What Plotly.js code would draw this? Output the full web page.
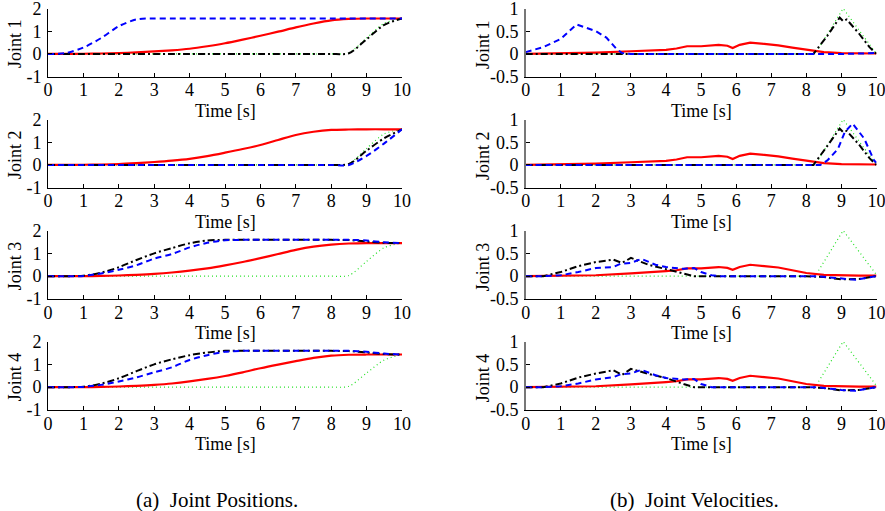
<!DOCTYPE html>
<html>
<head>
<meta charset="utf-8">
<script src="https://cdn.plot.ly/plotly-3.0.1.min.js"></script>
<style>html,body{margin:0;padding:0;background:#fff;}#chart{width:885px;height:511px;}</style>
</head>
<body>
<div id="chart"></div>
<script>
// ---------- DATA ----------
const tP = [0,0.5,1,1.5,2,2.5,3,3.5,4,4.5,5,5.5,6,6.5,7,7.5,8,8.5,9,9.5,10];

// Joint positions
const p1Red   = [0,0,0.01,0.02,0.04,0.07,0.11,0.16,0.23,0.34,0.47,0.63,0.8,0.98,1.17,1.34,1.48,1.54,1.56,1.56,1.56];
const p1Blue  = [0,0.04,0.28,0.7,1.22,1.52,1.56,1.56,1.56,1.56,1.56,1.56,1.56,1.56,1.56,1.56,1.56,1.56,1.56,1.56,1.56];
const p1Black = [0,0,0,0,0,0,0,0,0,0,0,0,0,0,0,0,0,0.03,0.65,1.28,1.56];
const p1Green = [0,0,0,0,0,0,0,0,0,0,0,0,0,0,0,0,0,0.05,0.7,1.35,1.56];

const p2Red   = [0,0,0.01,0.02,0.04,0.08,0.13,0.19,0.27,0.39,0.54,0.7,0.88,1.1,1.32,1.46,1.54,1.56,1.57,1.57,1.57];
const p2Blue  = [0,0,0,0,0,0,0,0,0,0,0,0,0,0,0,0,0,0,0.4,0.95,1.57];
const p2Black = [0,0,0,0,0,0,0,0,0,0,0,0,0,0,0,0,0,0.04,0.63,1.18,1.57];
const p2Green = [0,0,0,0,0,0,0,0,0,0,0,0,0,0,0,0,0,0.05,0.73,1.37,1.57];

const p3Red   = [0,0,0,0.01,0.03,0.06,0.1,0.16,0.24,0.34,0.47,0.62,0.79,0.97,1.15,1.29,1.38,1.43,1.45,1.45,1.45];
const p3Blue  = [0,0,0.01,0.12,0.28,0.48,0.77,0.97,1.26,1.46,1.57,1.59,1.59,1.59,1.59,1.59,1.59,1.59,1.56,1.48,1.45];
const p3Black = [0,0,0.02,0.15,0.39,0.71,1.0,1.23,1.44,1.56,1.59,1.59,1.59,1.59,1.59,1.59,1.59,1.58,1.52,1.46,1.45];
const p3Green = [0,0,0,0,0,0,0,0,0,0,0,0,0,0,0,0,0,0.03,0.65,1.25,1.45];

const p4Red   = [0,0,0,0.01,0.03,0.06,0.1,0.16,0.25,0.36,0.49,0.65,0.83,0.99,1.14,1.28,1.38,1.42,1.43,1.43,1.43];
const p4Blue  = [0,0,0.01,0.1,0.25,0.43,0.65,0.87,1.19,1.4,1.55,1.59,1.59,1.59,1.59,1.59,1.59,1.59,1.55,1.47,1.43];
const p4Black = [0,0,0.02,0.15,0.39,0.7,1.0,1.22,1.4,1.52,1.59,1.59,1.59,1.59,1.59,1.59,1.59,1.58,1.52,1.45,1.43];
const p4Green = [0,0,0,0,0,0,0,0,0,0,0,0,0,0,0,0,0,0.04,0.62,1.19,1.43];

// Joint velocities
const vRedT  = [0,1,2,3,3.5,4,4.3,4.6,5,5.5,5.75,5.9,6.1,6.4,6.8,7.2,7.6,8,8.5,9,9.5,10];
const v1Red  = [0,0.01,0.03,0.06,0.08,0.09,0.12,0.17,0.17,0.2,0.18,0.13,0.2,0.25,0.22,0.19,0.14,0.09,0.04,0.02,0.01,0.01];
const v3Red  = [0,0.01,0.02,0.06,0.08,0.11,0.13,0.17,0.17,0.2,0.18,0.14,0.2,0.25,0.22,0.19,0.13,0.07,0.03,0.015,0.01,0.01];

const v1BlueT = [0,0.5,1,1.45,2,2.3,2.6,2.75,3,5,8,9,10];
const v1Blue  = [0.04,0.15,0.33,0.65,0.5,0.36,0.1,0.02,0,0,0,0,0.02];

const vBlackT = [0,8.2,8.6,8.95,9.05,9.15,9.5,9.8,10];
const v1Black = [0,0,0.4,0.8,0.72,0.76,0.45,0.15,0];
const v2Black = [0,0,0.42,0.8,0.72,0.75,0.45,0.15,0];

const vGreenT = [0,8.25,9.05,10];
const v1Green = [0,0,1.0,0];
const v3Green = [0,0,1.0,0.03];

const v2BlueT = [0,8.4,8.6,8.9,9.1,9.32,9.65,9.93,10];
const v2Blue  = [0,0,0.1,0.35,0.73,0.91,0.58,0.1,0.05];

const v3BlackT = [0,0.5,1,1.5,2,2.5,2.75,3,3.5,4,4.5,4.8,8,8.5,9,9.5,10];
const v3Black  = [0,0,0.09,0.22,0.31,0.36,0.29,0.4,0.25,0.16,0.07,0,0,-0.02,-0.07,-0.06,0];
const v4Black  = [0,0,0.08,0.21,0.3,0.37,0.27,0.4,0.29,0.2,0.07,0,0,-0.02,-0.07,-0.06,0];

const v3BlueT = [0,0.5,1,1.5,2,2.5,2.7,3,3.3,3.7,4,4.5,4.8,5,5.3,5.5,8.3,9,9.4,9.7,10];
const v3Blue  = [0,0,0.02,0.09,0.18,0.2,0.27,0.29,0.38,0.25,0.2,0.16,0.18,0.09,0.02,0,0,-0.06,-0.08,-0.04,0];
const v4Blue  = [0,0,0.02,0.08,0.17,0.22,0.28,0.3,0.38,0.26,0.2,0.17,0.18,0.07,0,0,0,-0.06,-0.08,-0.04,0];

const posTickVals = [-1,0,1,2];
const posTickText = ['-1','0','1','2'];
const velTickVals = [-0.5,0,0.5,1];
const velTickText = ['-0.5','0','0.5','1'];
const xTickVals = [0,1,2,3,4,5,6,7,8,9,10];
const jointLabels = ['Joint 1','Joint 2','Joint 3','Joint 4'];
const xTitle = 'Time [s]';
const captions = ['(a)\u00a0\u00a0Joint Positions.', '(b)\u00a0\u00a0Joint Velocities.'];

// ---------- STYLES ----------
const W = 885, H = 511;
const FONT = '"Liberation Serif", "Times New Roman", Times, serif';
const styles = {
  green: {color:'#22e022', width:1.2, dash:'1px,3px'},
  red:   {color:'#ff0000', width:2.2, dash:'solid'},
  black: {color:'#000000', width:2, dash:'7px,3px,2px,3px'},
  blue:  {color:'#0000ff', width:2, dash:'6px,4px'}
};
function tr(x, y, ax, style, spline) {
  return {x:x, y:y, xaxis:'x'+(ax===1?'':ax), yaxis:'y'+(ax===1?'':ax),
    type:'scatter', mode:'lines', hoverinfo:'skip', showlegend:false, cliponaxis:false,
    line:Object.assign({shape: spline ? 'spline' : 'linear', smoothing:0.8}, styles[style])};
}

const traces = [];
const posSets = [
  [p1Green,p1Red,p1Black,p1Blue],
  [p2Green,p2Red,p2Black,p2Blue],
  [p3Green,p3Red,p3Black,p3Blue],
  [p4Green,p4Red,p4Black,p4Blue]
];
posSets.forEach((s,i) => {
  traces.push(tr(tP, s[0], i+1, 'green', true));
  traces.push(tr(tP, s[1], i+1, 'red', true));
  traces.push(tr(tP, s[2], i+1, 'black', true));
  traces.push(tr(tP, s[3], i+1, 'blue', true));
});
// velocities: axes 5..8
traces.push(tr(vGreenT, v1Green, 5, 'green'));
traces.push(tr(vRedT, v1Red, 5, 'red'));
traces.push(tr(vBlackT, v1Black, 5, 'black'));
traces.push(tr(v1BlueT, v1Blue, 5, 'blue'));

traces.push(tr(vGreenT, v1Green, 6, 'green'));
traces.push(tr(vRedT, v1Red, 6, 'red'));
traces.push(tr(vBlackT, v2Black, 6, 'black'));
traces.push(tr(v2BlueT, v2Blue, 6, 'blue'));

traces.push(tr(vGreenT, v3Green, 7, 'green'));
traces.push(tr(vRedT, v3Red, 7, 'red'));
traces.push(tr(v3BlackT, v3Black, 7, 'black'));
traces.push(tr(v3BlueT, v3Blue, 7, 'blue'));

traces.push(tr(vGreenT, v3Green, 8, 'green'));
traces.push(tr(vRedT, v3Red, 8, 'red'));
traces.push(tr(v3BlackT, v4Black, 8, 'black'));
traces.push(tr(v3BlueT, v4Blue, 8, 'blue'));

// ---------- LAYOUT ----------
const leftX = [48, 402], rightX = [525.7, 876.5];
const rowPx = [[8.5,76.7],[119.5,187.7],[230.5,299],[341.5,410]]; // top,bottom in px
const px2x = p => p / W;
const px2y = p => 1 - p / H;

const layout = {
  width: W, height: H,
  margin: {l:0, r:0, t:0, b:0},
  paper_bgcolor: '#fff', plot_bgcolor: '#fff',
  font: {family: FONT, size: 18, color: '#000'},
  annotations: []
};
function axisBase() {
  return {showline:true, linecolor:'#000', linewidth:1, ticks:'inside', ticklen:4,
    tickcolor:'#000', tickwidth:1, showgrid:false, zeroline:false, mirror:false,
    ticklabeloverflow:'allow',
    tickfont:{family:FONT, size:18, color:'#000'}, fixedrange:true};
}
for (let k = 1; k <= 8; k++) {
  const isVel = k > 4;
  const r = (k - 1) % 4;
  const xs = isVel ? rightX : leftX;
  const xa = axisBase();
  xa.domain = [px2x(xs[0]), px2x(xs[1])];
  xa.range = [0, 10];
  xa.tickmode = 'array'; xa.tickvals = xTickVals;
  xa.anchor = 'y' + (k === 1 ? '' : k);
  xa.ticklabelstandoff = -3;
  const ya = axisBase();
  ya.domain = [px2y(rowPx[r][1]), px2y(rowPx[r][0])];
  ya.range = isVel ? [-0.5, 1] : [-1, 2];
  ya.tickmode = 'array';
  ya.tickvals = isVel ? velTickVals : posTickVals;
  ya.ticktext = isVel ? velTickText : posTickText;
  ya.anchor = 'x' + (k === 1 ? '' : k);
  ya.ticklabelstandoff = 2;
  if (isVel) { ya.linecolor = '#777'; ya.linewidth = 1.5; }
  layout['xaxis' + (k === 1 ? '' : k)] = xa;
  layout['yaxis' + (k === 1 ? '' : k)] = ya;

  layout.annotations.push({text: xTitle, xref:'paper', yref:'paper',
    x: px2x((xs[0]+xs[1])/2), y: px2y(rowPx[r][1] + 34), xanchor:'center', yanchor:'middle',
    showarrow:false, font:{family:FONT, size:18, color:'#000'}});
  layout.annotations.push({text: jointLabels[r], xref:'paper', yref:'paper',
    x: px2x(isVel ? 483 : 15), y: px2y((rowPx[r][0]+rowPx[r][1])/2 + 1.5), xanchor:'center', yanchor:'middle',
    textangle:-90, showarrow:false, font:{family:FONT, size:18, color:'#000'}});
}
layout.annotations.push({text: captions[0], xref:'paper', yref:'paper', x: px2x(217), y: px2y(500),
  xanchor:'center', yanchor:'middle', showarrow:false, font:{family:FONT, size:21, color:'#000'}});
layout.annotations.push({text: captions[1], xref:'paper', yref:'paper', x: px2x(694), y: px2y(500),
  xanchor:'center', yanchor:'middle', showarrow:false, font:{family:FONT, size:21, color:'#000'}});

Plotly.newPlot('chart', traces, layout, {staticPlot:true, displayModeBar:false});
</script>
</body>
</html>
